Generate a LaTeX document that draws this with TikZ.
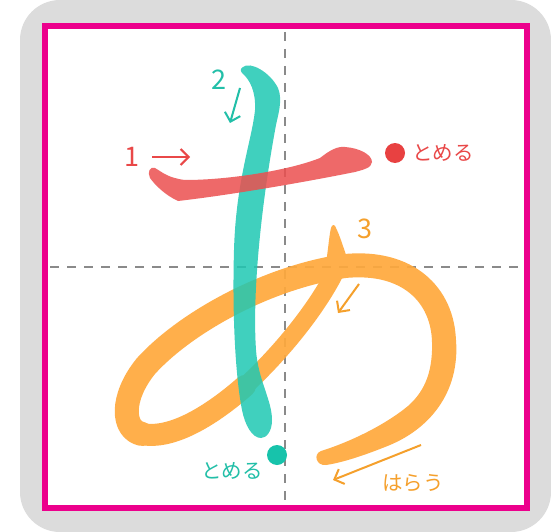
\documentclass[tikz,border=0pt]{standalone}
\usepackage{fontspec}
\setmainfont{Noto Sans CJK JP}
\usetikzlibrary{arrows.meta}
\definecolor{bggray}{HTML}{DCDCDC}
\definecolor{frame}{HTML}{EC008C}
\definecolor{gline}{HTML}{8A8A8A}
\definecolor{kred}{HTML}{EC4F4F}
\definecolor{kteal}{HTML}{1FC8B3}
\definecolor{korange}{HTML}{FFA93C}
\definecolor{redtxt}{HTML}{E94848}
\definecolor{tealtxt}{HTML}{22BFA8}
\definecolor{orangetxt}{HTML}{F5A02C}
\definecolor{reddot}{HTML}{E84141}
\definecolor{tealdot}{HTML}{17C3AB}
\tikzset{
  guide/.style={draw=gline,line width=1.6pt,dash pattern=on 9pt off 8pt},
  lab/.style={inner sep=0pt,font=\fontsize{27}{30}\selectfont},
  note/.style={inner sep=0pt,font=\fontsize{20.5}{23}\selectfont},
  ar/.style={-{Straight Barb[length=8pt,width=16pt]},line width=2pt},
  tomedot/.style={circle,inner sep=0pt,minimum size=20pt},
}
\begin{document}
\begin{tikzpicture}[x=1pt,y=-1pt]
\useasboundingbox (0,0) rectangle (551,532);
% ---- frame ----
\fill[bggray,rounded corners=40pt] (20,0) rectangle (551,532);
\fill[white] (45,26) rectangle (527,508);
\draw[frame,line width=6pt] (45,26) rectangle (527,508);
\coordinate (vt) at (285,32);
\coordinate (vb) at (285,505);
\coordinate (hl) at (50,267);
\coordinate (hr) at (524,267);
\draw[guide] (vt) -- (vb);
\draw[guide] (hl) -- (hr);

% ---- stroke 3 ----
\begin{scope}[transparency group,opacity=0.92]
\fill[korange] (331,228) .. controls (332,224) and (335,224) .. (336,228)
  .. controls (342,240) and (346,258) .. (352,270) -- (325,270)
  .. controls (328,252) and (329,236) .. (331,228) -- cycle;
\draw[korange,line width=18pt,line cap=round]
  (338,266) .. controls (320,305) and (282,352) .. (245,386);
\draw[korange,line width=22pt,line cap=round]
  (245,386) .. controls (212,415) and (172,440) .. (142,434);
\draw[korange,line width=24pt,line cap=round,line join=round]
  (142,434) .. controls (122,430) and (120,398) .. (146,366)
  .. controls (186,322) and (268,277) .. (345,266)
  .. controls (408,260) and (443,295) .. (444,342);
\fill[korange] (456,340) .. controls (460,392) and (430,430) .. (385,447)
  .. controls (360,457) and (340,463) .. (326,465)
  .. controls (316,466) and (313,454) .. (321,451)
  .. controls (350,442) and (385,425) .. (408,406)
  .. controls (426,390) and (433,370) .. (432,340) -- cycle;
\end{scope}

% ---- stroke 2 ----
\fill[kteal,opacity=0.85] (243,67) .. controls (250,61) and (270,72) .. (278,88)
  .. controls (283,100) and (278,115) .. (276,125)
  .. controls (262,200) and (252,290) .. (256,350)
  .. controls (258,380) and (272,400) .. (272,420)
  .. controls (272,432) and (266,438) .. (261,438)
  .. controls (252,438) and (245,425) .. (242,410)
  .. controls (236,380) and (232,320) .. (234,250)
  .. controls (236,180) and (252,140) .. (255,110)
  .. controls (256,92) and (250,80) .. (243,74)
  .. controls (240,71) and (240,69) .. (243,67) -- cycle;

% ---- stroke 1 ----
\fill[kred,opacity=0.85] (155,168) .. controls (162,172) and (168,178) .. (185,180)
  .. controls (230,180) and (290,170) .. (320,158)
  .. controls (330,150) and (338,146) .. (345,147)
  .. controls (360,148) and (372,155) .. (372,162)
  .. controls (372,168) and (362,170) .. (355,172)
  .. controls (300,183) and (230,195) .. (178,201)
  .. controls (165,195) and (155,185) .. (150,178)
  .. controls (147,172) and (150,166) .. (155,168) -- cycle;

% ---- numbers and arrows ----
\node[lab,text=redtxt] (n1) at (132,157) {1};
\node[lab,text=tealtxt] (n2) at (219,80) {2};
\node[lab,text=orangetxt] (n3) at (365,229) {3};
\coordinate (a1s) at (152,157);
\coordinate (a1e) at (190,157);
\coordinate (a2s) at (240,88);
\coordinate (a2e) at (230,123);
\coordinate (a3s) at (359,284);
\coordinate (a3e) at (338,313);
\coordinate (a4s) at (421,445);
\coordinate (a4e) at (333,480);
\draw[ar,draw=redtxt] (a1s) -- (a1e);
\draw[ar,draw=tealtxt] (a2s) -- (a2e);
\draw[ar,draw=orangetxt] (a3s) -- (a3e);
\draw[ar,draw=orangetxt] (a4s) -- (a4e);

% ---- end marks ----
\node[tomedot,fill=reddot] (d1) at (395,153) {};
\node[note,text=redtxt,anchor=west] (t1) at (412,153) {とめる};
\node[tomedot,fill=tealdot] (d2) at (277,455) {};
\node[note,text=tealtxt] (t2) at (232,471) {とめる};
\node[note,text=orangetxt] (t3) at (413,483) {はらう};
\end{tikzpicture}
\end{document}
